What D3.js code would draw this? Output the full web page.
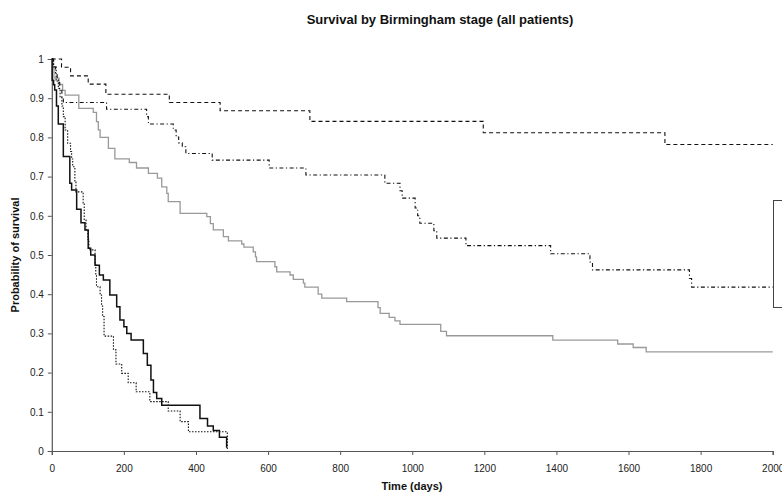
<!DOCTYPE html>
<html>
<head>
<meta charset="utf-8">
<script src="https://cdn.jsdelivr.net/npm/d3@7"></script>
<style>
  body { margin: 0; background: #fff; }
  svg { display: block; font-family: "Liberation Sans", Arial, sans-serif; }
</style>
</head>
<body>
<svg id="chart"></svg>
<script>
// data (days, survival probability)
const dashedDays = [0, 27, 52, 101, 150, 326, 467, 716, 1197, 1701, 2000];
const dashedSurv = [1, 0.979, 0.957, 0.936, 0.910, 0.889, 0.868, 0.841, 0.812, 0.782, 0.782];

const dashDotDays = [0, 5, 10, 15, 22, 28, 32, 152, 263, 268, 337, 345, 352, 362, 372, 445, 603, 705, 924, 966, 972, 1008, 1015, 1021, 1060, 1068, 1149, 1384, 1493, 1500, 1769, 1775, 2000];
const dashDotSurv = [1, 0.98, 0.96, 0.94, 0.92, 0.90, 0.889, 0.872, 0.853, 0.834, 0.819, 0.801, 0.786, 0.776, 0.759, 0.742, 0.722, 0.704, 0.683, 0.664, 0.645, 0.62, 0.60, 0.581, 0.562, 0.543, 0.524, 0.503, 0.482, 0.462, 0.44, 0.418, 0.418];

const greyDays = [0, 3, 6, 20, 30, 37, 75, 115, 124, 129, 134, 157, 175, 215, 235, 268, 293, 305, 319, 323, 356, 430, 440, 448, 476, 490, 527, 533, 559, 565, 568, 619, 624, 661, 670, 698, 702, 739, 749, 818, 905, 911, 936, 952, 966, 1079, 1095, 1390, 1570, 1613, 1649, 2000];
const greySurv = [1, 0.975, 0.951, 0.935, 0.92, 0.908, 0.874, 0.864, 0.84, 0.819, 0.80, 0.772, 0.745, 0.736, 0.722, 0.708, 0.696, 0.674, 0.657, 0.636, 0.606, 0.598, 0.58, 0.564, 0.547, 0.536, 0.528, 0.520, 0.508, 0.495, 0.483, 0.470, 0.457, 0.449, 0.438, 0.428, 0.418, 0.400, 0.390, 0.381, 0.366, 0.351, 0.341, 0.332, 0.323, 0.305, 0.294, 0.283, 0.273, 0.264, 0.253, 0.253];

const solidDays = [0, 1, 5, 8, 13, 18, 32, 50, 55, 69, 81, 92, 101, 108, 120, 132, 143, 161, 180, 189, 200, 208, 220, 254, 265, 275, 282, 291, 305, 411, 432, 448, 465, 485];
const solidSurv = [1, 0.946, 0.934, 0.921, 0.88, 0.834, 0.751, 0.683, 0.666, 0.617, 0.582, 0.564, 0.517, 0.5, 0.474, 0.449, 0.436, 0.398, 0.368, 0.334, 0.317, 0.300, 0.283, 0.249, 0.219, 0.181, 0.149, 0.134, 0.117, 0.083, 0.064, 0.052, 0.035, 0.008];

const dottedDays = [0, 5, 12, 18, 23, 28, 32, 37, 44, 52, 55, 58, 64, 67, 87, 90, 95, 100, 103, 106, 120, 122, 124, 134, 138, 141, 145, 171, 178, 194, 212, 234, 272, 323, 356, 379, 487];
const dottedSurv = [1, 0.98, 0.946, 0.925, 0.904, 0.88, 0.853, 0.819, 0.785, 0.764, 0.745, 0.725, 0.686, 0.661, 0.633, 0.589, 0.564, 0.54, 0.517, 0.513, 0.479, 0.45, 0.419, 0.398, 0.37, 0.343, 0.293, 0.258, 0.222, 0.198, 0.174, 0.151, 0.126, 0.102, 0.075, 0.049, 0.005];

const xTicks = [0, 200, 400, 600, 800, 1000, 1200, 1400, 1600, 1800, 2000];
const yTicks = [0, 0.1, 0.2, 0.3, 0.4, 0.5, 0.6, 0.7, 0.8, 0.9, 1];

const w = 782;
const h = 492;

const svg = d3.select('#chart')
    .attr('width', w)
    .attr('height', h);

const xScale = d3.scaleLinear().domain([0, 2000]).range([51.8, 772.7]);
const yScale = d3.scaleLinear().domain([0, 1]).range([451, 59]);

//axes
const xAxis = d3.axisBottom(xScale)
    .tickValues(xTicks)
    .tickSize(4)
    .tickFormat(d3.format('d'));
const yAxis = d3.axisLeft(yScale)
    .tickValues(yTicks)
    .tickSize(4)
    .tickFormat(d => (d === 0 || d === 1) ? String(d) : d.toFixed(1));

const gx = svg.append('g')
    .attr('transform', 'translate(0,' + yScale(0) + ')')
    .call(xAxis);
const gy = svg.append('g')
    .attr('transform', 'translate(' + xScale(0) + ',0)')
    .call(yAxis);

[gx, gy].forEach(g => {
    g.select('.domain').attr('stroke', '#555').attr('stroke-width', 1.2);
    g.selectAll('.tick line').attr('stroke', '#555');
    g.selectAll('.tick text')
        .attr('fill', '#222')
        .style('font-size', '10px')
        .style('font-family', '"Liberation Sans", Arial, sans-serif');
});
gx.selectAll('.tick text').attr('dy', '1.35em');
gy.selectAll('.tick text').attr('x', -8);

//survival curves
const series = [
    { days: greyDays, surv: greySurv, color: '#999', width: 1.3, dash: null },
    { days: dottedDays, surv: dottedSurv, color: '#111', width: 1.1, dash: '1.5,1.5' },
    { days: solidDays, surv: solidSurv, color: '#111', width: 1.5, dash: null },
    { days: dashDotDays, surv: dashDotSurv, color: '#111', width: 1.1, dash: '4,2.5,1.2,2.5' },
    { days: dashedDays, surv: dashedSurv, color: '#111', width: 1.1, dash: '4,3' }
];

const line = d3.line()
    .x(d => xScale(d[0]))
    .y(d => yScale(d[1]))
    .curve(d3.curveStepAfter);

series.forEach(s => {
    svg.append('path')
        .datum(s.days.map((d, i) => [d, s.surv[i]]))
        .attr('d', line)
        .attr('fill', 'none')
        .attr('stroke', s.color)
        .attr('stroke-width', s.width)
        .attr('stroke-dasharray', s.dash);
});

//legend box (cut off at the right edge)
svg.append('rect')
    .attr('x', 773.5)
    .attr('y', 200.5)
    .attr('width', 40)
    .attr('height', 107)
    .attr('fill', '#fff')
    .attr('stroke', '#444')
    .attr('stroke-width', 1);

//title and axis labels
svg.append('text')
    .attr('x', 440)
    .attr('y', 24)
    .attr('text-anchor', 'middle')
    .style('font-size', '13px')
    .style('font-weight', 'bold')
    .attr('fill', '#111')
    .text('Survival by Birmingham stage (all patients)');

svg.append('text')
    .attr('x', 412)
    .attr('y', 490)
    .attr('text-anchor', 'middle')
    .style('font-size', '11px')
    .style('font-weight', 'bold')
    .attr('fill', '#111')
    .text('Time (days)');

svg.append('text')
    .attr('transform', 'translate(19,255) rotate(-90)')
    .attr('text-anchor', 'middle')
    .style('font-size', '11px')
    .style('font-weight', 'bold')
    .attr('fill', '#111')
    .text('Probability of survival');
</script>
</body>
</html>
